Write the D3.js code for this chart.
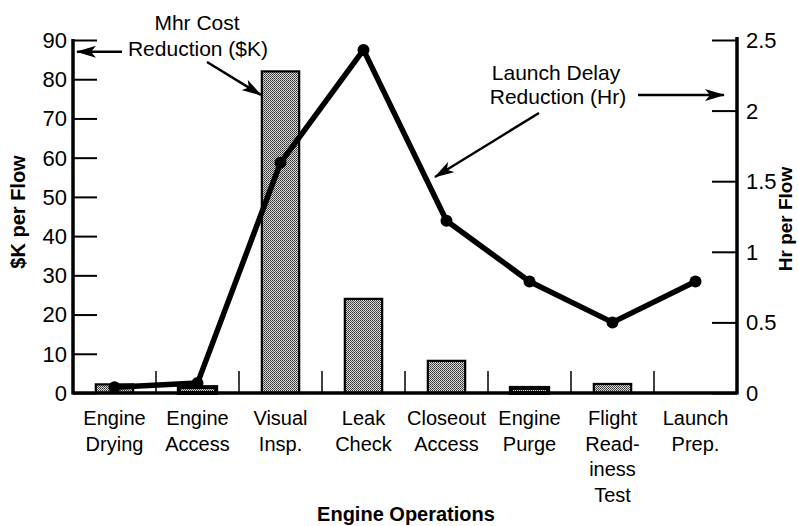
<!DOCTYPE html>
<html>
<head>
<meta charset="utf-8">
<script src="https://cdn.jsdelivr.net/npm/d3@7"></script>
<style>
  body { margin: 0; background: #fff; }
  text { font-family: "Liberation Sans", Arial, Helvetica, sans-serif; fill: #000; }
</style>
</head>
<body>
<div id="chart"></div>
<script>
// Chart data
var categories = ["Engine Drying", "Engine Access", "Visual Insp.", "Leak Check",
                  "Closeout Access", "Engine Purge", "Flight Readiness Test", "Launch Prep."];
// label lines under each category
var categoryLines = [["Engine", "Drying"], ["Engine", "Access"], ["Visual", "Insp."], ["Leak", "Check"],
                     ["Closeout", "Access"], ["Engine", "Purge"], ["Flight", "Read-", "iness", "Test"], ["Launch", "Prep."]];
var costValues = [2.2, 1.5, 82, 24, 8.2, 1.3, 2.3, 0];          // Mhr Cost Reduction ($K)
var delayValues = [0.04, 0.07, 1.63, 2.43, 1.22, 0.79, 0.5, 0.79]; // Launch Delay Reduction (Hr)
var leftTicks = [0, 10, 20, 30, 40, 50, 60, 70, 80, 90];
var rightTicks = [0, 0.5, 1, 1.5, 2, 2.5];

var width = 799, height = 526;
var plot = {left: 73, right: 737, top: 40, bottom: 393};

var svg = d3.select("#chart").append("svg")
    .attr("width", width)
    .attr("height", height);

// bar pattern (stipple gray)
var defs = svg.append("defs");
var pat = defs.append("pattern")
    .attr("id", "stipple")
    .attr("patternUnits", "userSpaceOnUse")
    .attr("width", 2).attr("height", 2);
pat.append("rect").attr("width", 2).attr("height", 2).attr("fill", "#d8d8d8");
pat.append("rect").attr("width", 1).attr("height", 1).attr("fill", "#333");
pat.append("rect").attr("x", 1).attr("y", 1).attr("width", 1).attr("height", 1).attr("fill", "#555");

defs.append("marker")
    .attr("id", "arrow")
    .attr("markerUnits", "userSpaceOnUse")
    .attr("viewBox", "0 0 20 12")
    .attr("refX", 19).attr("refY", 6)
    .attr("markerWidth", 20).attr("markerHeight", 12)
    .attr("orient", "auto")
    .append("path")
    .attr("d", "M0,0 L20,6 L0,12 L5,6 Z")
    .attr("fill", "#000");

var x = d3.scaleBand()
    .domain(categories)
    .range([plot.left, plot.right])
    .padding(0);

var yL = d3.scaleLinear().domain([0, 90]).range([plot.bottom, plot.top]);
var yR = d3.scaleLinear().domain([0, 2.5]).range([plot.bottom, plot.top]);

var barW = x.bandwidth() * 0.45;

// Bars
svg.append("g").selectAll(".bar")
    .data(categories)
    .enter().append("rect")
    .attr("class", "bar")
    .attr("x", function(d) { return x(d) + (x.bandwidth() - barW) / 2; })
    .attr("y", function(d, i) { return yL(costValues[i]); })
    .attr("width", barW)
    .attr("height", function(d, i) { return plot.bottom - yL(costValues[i]); })
    .attr("fill", "url(#stipple)")
    .attr("stroke", "#000")
    .attr("stroke-width", function(d, i) { return costValues[i] < 2 ? 4 : 2.2; })
    .style("display", function(d, i) { return costValues[i] > 0 ? null : "none"; });

// Category separators
svg.append("g").selectAll("line")
    .data(categories.slice(1))
    .enter().append("line")
    .attr("x1", function(d) { return x(d); })
    .attr("x2", function(d) { return x(d); })
    .attr("y1", plot.bottom - 22)
    .attr("y2", plot.bottom)
    .attr("stroke", "#000")
    .attr("stroke-width", 1.5);

// Left axis
var leftAxis = d3.axisRight(yL).tickValues(leftTicks).tickSize(24).tickFormat("");
var gL = svg.append("g")
    .attr("transform", "translate(" + plot.left + ",0)")
    .call(leftAxis);
gL.select(".domain").remove();
gL.selectAll(".tick line").attr("stroke", "#000").attr("stroke-width", 2);
svg.append("line")
    .attr("x1", plot.left).attr("x2", plot.left)
    .attr("y1", plot.top - 1).attr("y2", plot.bottom + 1.5)
    .attr("stroke", "#000").attr("stroke-width", 3.5);
svg.append("g").selectAll("text")
    .data(leftTicks)
    .enter().append("text")
    .attr("x", plot.left - 6)
    .attr("y", function(d) { return yL(d); })
    .attr("dy", "0.36em")
    .attr("text-anchor", "end")
    .style("font-size", "22px")
    .text(function(d) { return d; });

// Right axis
var rightAxis = d3.axisLeft(yR).tickValues(rightTicks).tickSize(25).tickFormat("");
var gR = svg.append("g")
    .attr("transform", "translate(" + plot.right + ",0)")
    .call(rightAxis);
gR.select(".domain").remove();
gR.selectAll(".tick line").attr("stroke", "#000").attr("stroke-width", 2);
svg.append("line")
    .attr("x1", plot.right).attr("x2", plot.right)
    .attr("y1", plot.top - 3).attr("y2", plot.bottom + 1.5)
    .attr("stroke", "#000").attr("stroke-width", 3.5);
svg.append("g").selectAll("text")
    .data(rightTicks)
    .enter().append("text")
    .attr("x", plot.right + 9)
    .attr("y", function(d) { return yR(d); })
    .attr("dy", "0.36em")
    .style("font-size", "22px")
    .text(function(d) { return d; });

// Baseline
svg.append("line")
    .attr("x1", plot.left).attr("x2", plot.right)
    .attr("y1", plot.bottom).attr("y2", plot.bottom)
    .attr("stroke", "#000").attr("stroke-width", 3.5);

// Delay line
var line = d3.line()
    .x(function(d, i) { return x(categories[i]) + x.bandwidth() / 2; })
    .y(function(d) { return yR(d); });

svg.append("path")
    .datum(delayValues)
    .attr("d", line)
    .attr("fill", "none")
    .attr("stroke", "#000")
    .attr("stroke-width", 5.5)
    .attr("stroke-linejoin", "round");

svg.append("g").selectAll("circle")
    .data(delayValues)
    .enter().append("circle")
    .attr("cx", function(d, i) { return x(categories[i]) + x.bandwidth() / 2; })
    .attr("cy", function(d) { return yR(d); })
    .attr("r", 6)
    .attr("fill", "#000");

// Category labels
var lab = svg.append("g").selectAll("text")
    .data(categoryLines)
    .enter().append("text")
    .attr("text-anchor", "middle")
    .style("font-size", "20px")
    .attr("transform", function(d, i) {
        return "translate(" + (x(categories[i]) + x.bandwidth() / 2) + ",425)";
    });
lab.selectAll("tspan")
    .data(function(d) { return d; })
    .enter().append("tspan")
    .attr("x", 0)
    .attr("y", function(d, i) { return i * 25.5; })
    .text(function(d) { return d; });

// Axis titles
svg.append("text")
    .attr("transform", "translate(25,212) rotate(-90)")
    .attr("text-anchor", "middle")
    .style("font-size", "20px")
    .style("font-weight", "bold")
    .text("$K per Flow");

svg.append("text")
    .attr("transform", "translate(792,219) rotate(-90)")
    .attr("text-anchor", "middle")
    .style("font-size", "19px")
    .style("font-weight", "bold")
    .text("Hr per Flow");

svg.append("text")
    .attr("x", 406).attr("y", 521)
    .attr("text-anchor", "middle")
    .style("font-size", "20px")
    .style("font-weight", "bold")
    .text("Engine Operations");

// Annotations
var ann = svg.append("g").style("font-size", "21px");
ann.append("text").attr("x", 197).attr("y", 30).attr("text-anchor", "middle").text("Mhr Cost");
ann.append("text").attr("x", 198).attr("y", 56).attr("text-anchor", "middle").text("Reduction ($K)");
ann.append("text").attr("x", 556).attr("y", 80).attr("text-anchor", "middle").text("Launch Delay");
ann.append("text").attr("x", 558).attr("y", 104).attr("text-anchor", "middle").text("Reduction (Hr)");

var visualLeft = x("Visual Insp.") + (x.bandwidth() - barW) / 2;
var arrows = [
    [122, yL(87), plot.left + 4, yL(87)],
    [207, 62, visualLeft - 1, yL(76)],
    [638, yR(2.11), plot.right - 13, yR(2.11)],
    [539, 113, 435, 177]
];
svg.append("g").selectAll("line")
    .data(arrows)
    .enter().append("line")
    .attr("x1", function(d) { return d[0]; })
    .attr("y1", function(d) { return d[1]; })
    .attr("x2", function(d) { return d[2]; })
    .attr("y2", function(d) { return d[3]; })
    .attr("stroke", "#000")
    .attr("stroke-width", 2.5)
    .attr("marker-end", "url(#arrow)");
</script>
</body>
</html>
